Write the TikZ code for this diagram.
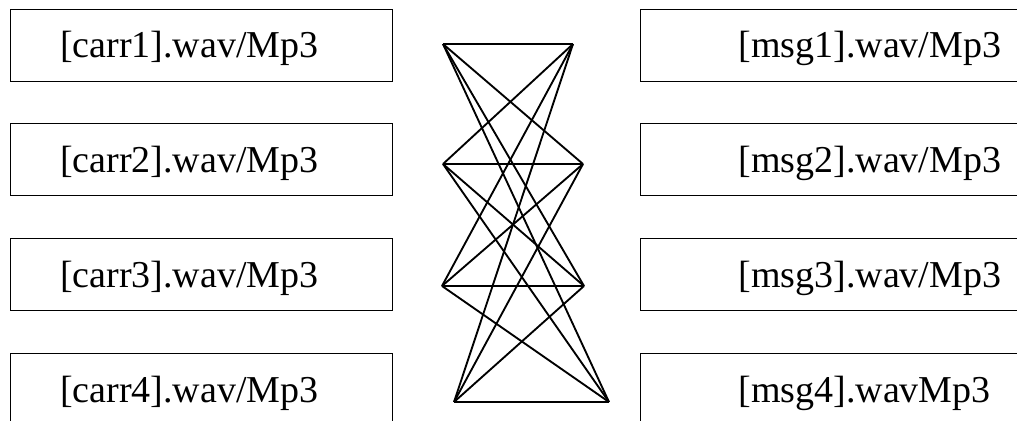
\documentclass[tikz,border=0pt]{standalone}
\usepackage{fontspec}
\setmainfont{Liberation Serif}
\usetikzlibrary{positioning}
\tikzset{
  file/.style={draw,line width=0.7pt,align=left,minimum height=54pt,
    text height=18.75pt,text depth=0pt,font=\fontsize{28.5}{30}\selectfont},
  carrier/.style={file,text width=211.5pt,inner xsep=37.5pt},
  message/.style={file,text width=217.5pt,inner xsep=73.5pt},
  link/.style={line width=1.4pt}
}
\begin{document}
\begin{tikzpicture}[x=0.75pt,y=-0.75pt,node distance=31.5pt]
\useasboundingbox (0,0) rectangle (1017,421);
\clip (0,0) rectangle (1017,421);
\node[carrier] (carr1) at (201,45) {[carr1].wav/Mp3};
\node[carrier,below=of carr1] (carr2) {[carr2].wav/Mp3};
\node[carrier,below=of carr2] (carr3) {[carr3].wav/Mp3};
\node[carrier,below=of carr3] (carr4) {[carr4].wav/Mp3};
\node[message,anchor=west] (msg1) at (640,45) {[msg1].wav/Mp3};
\node[message,below=of msg1] (msg2) {[msg2].wav/Mp3};
\node[message,below=of msg2] (msg3) {[msg3].wav/Mp3};
\node[message,below=of msg3] (msg4) {[msg4].wavMp3};
% crossing links
\coordinate (a1) at (443,44); \coordinate (b1) at (573,44);
\coordinate (a2) at (443,164); \coordinate (b2) at (583,164);
\coordinate (a3) at (442,286); \coordinate (b3) at (584,286);
\coordinate (a4) at (454,402); \coordinate (b4) at (609,402);
\foreach \i in {1,...,4}
  \foreach \j in {1,...,4}
    \draw[link] (a\i) -- (b\j);
\end{tikzpicture}
\end{document}
